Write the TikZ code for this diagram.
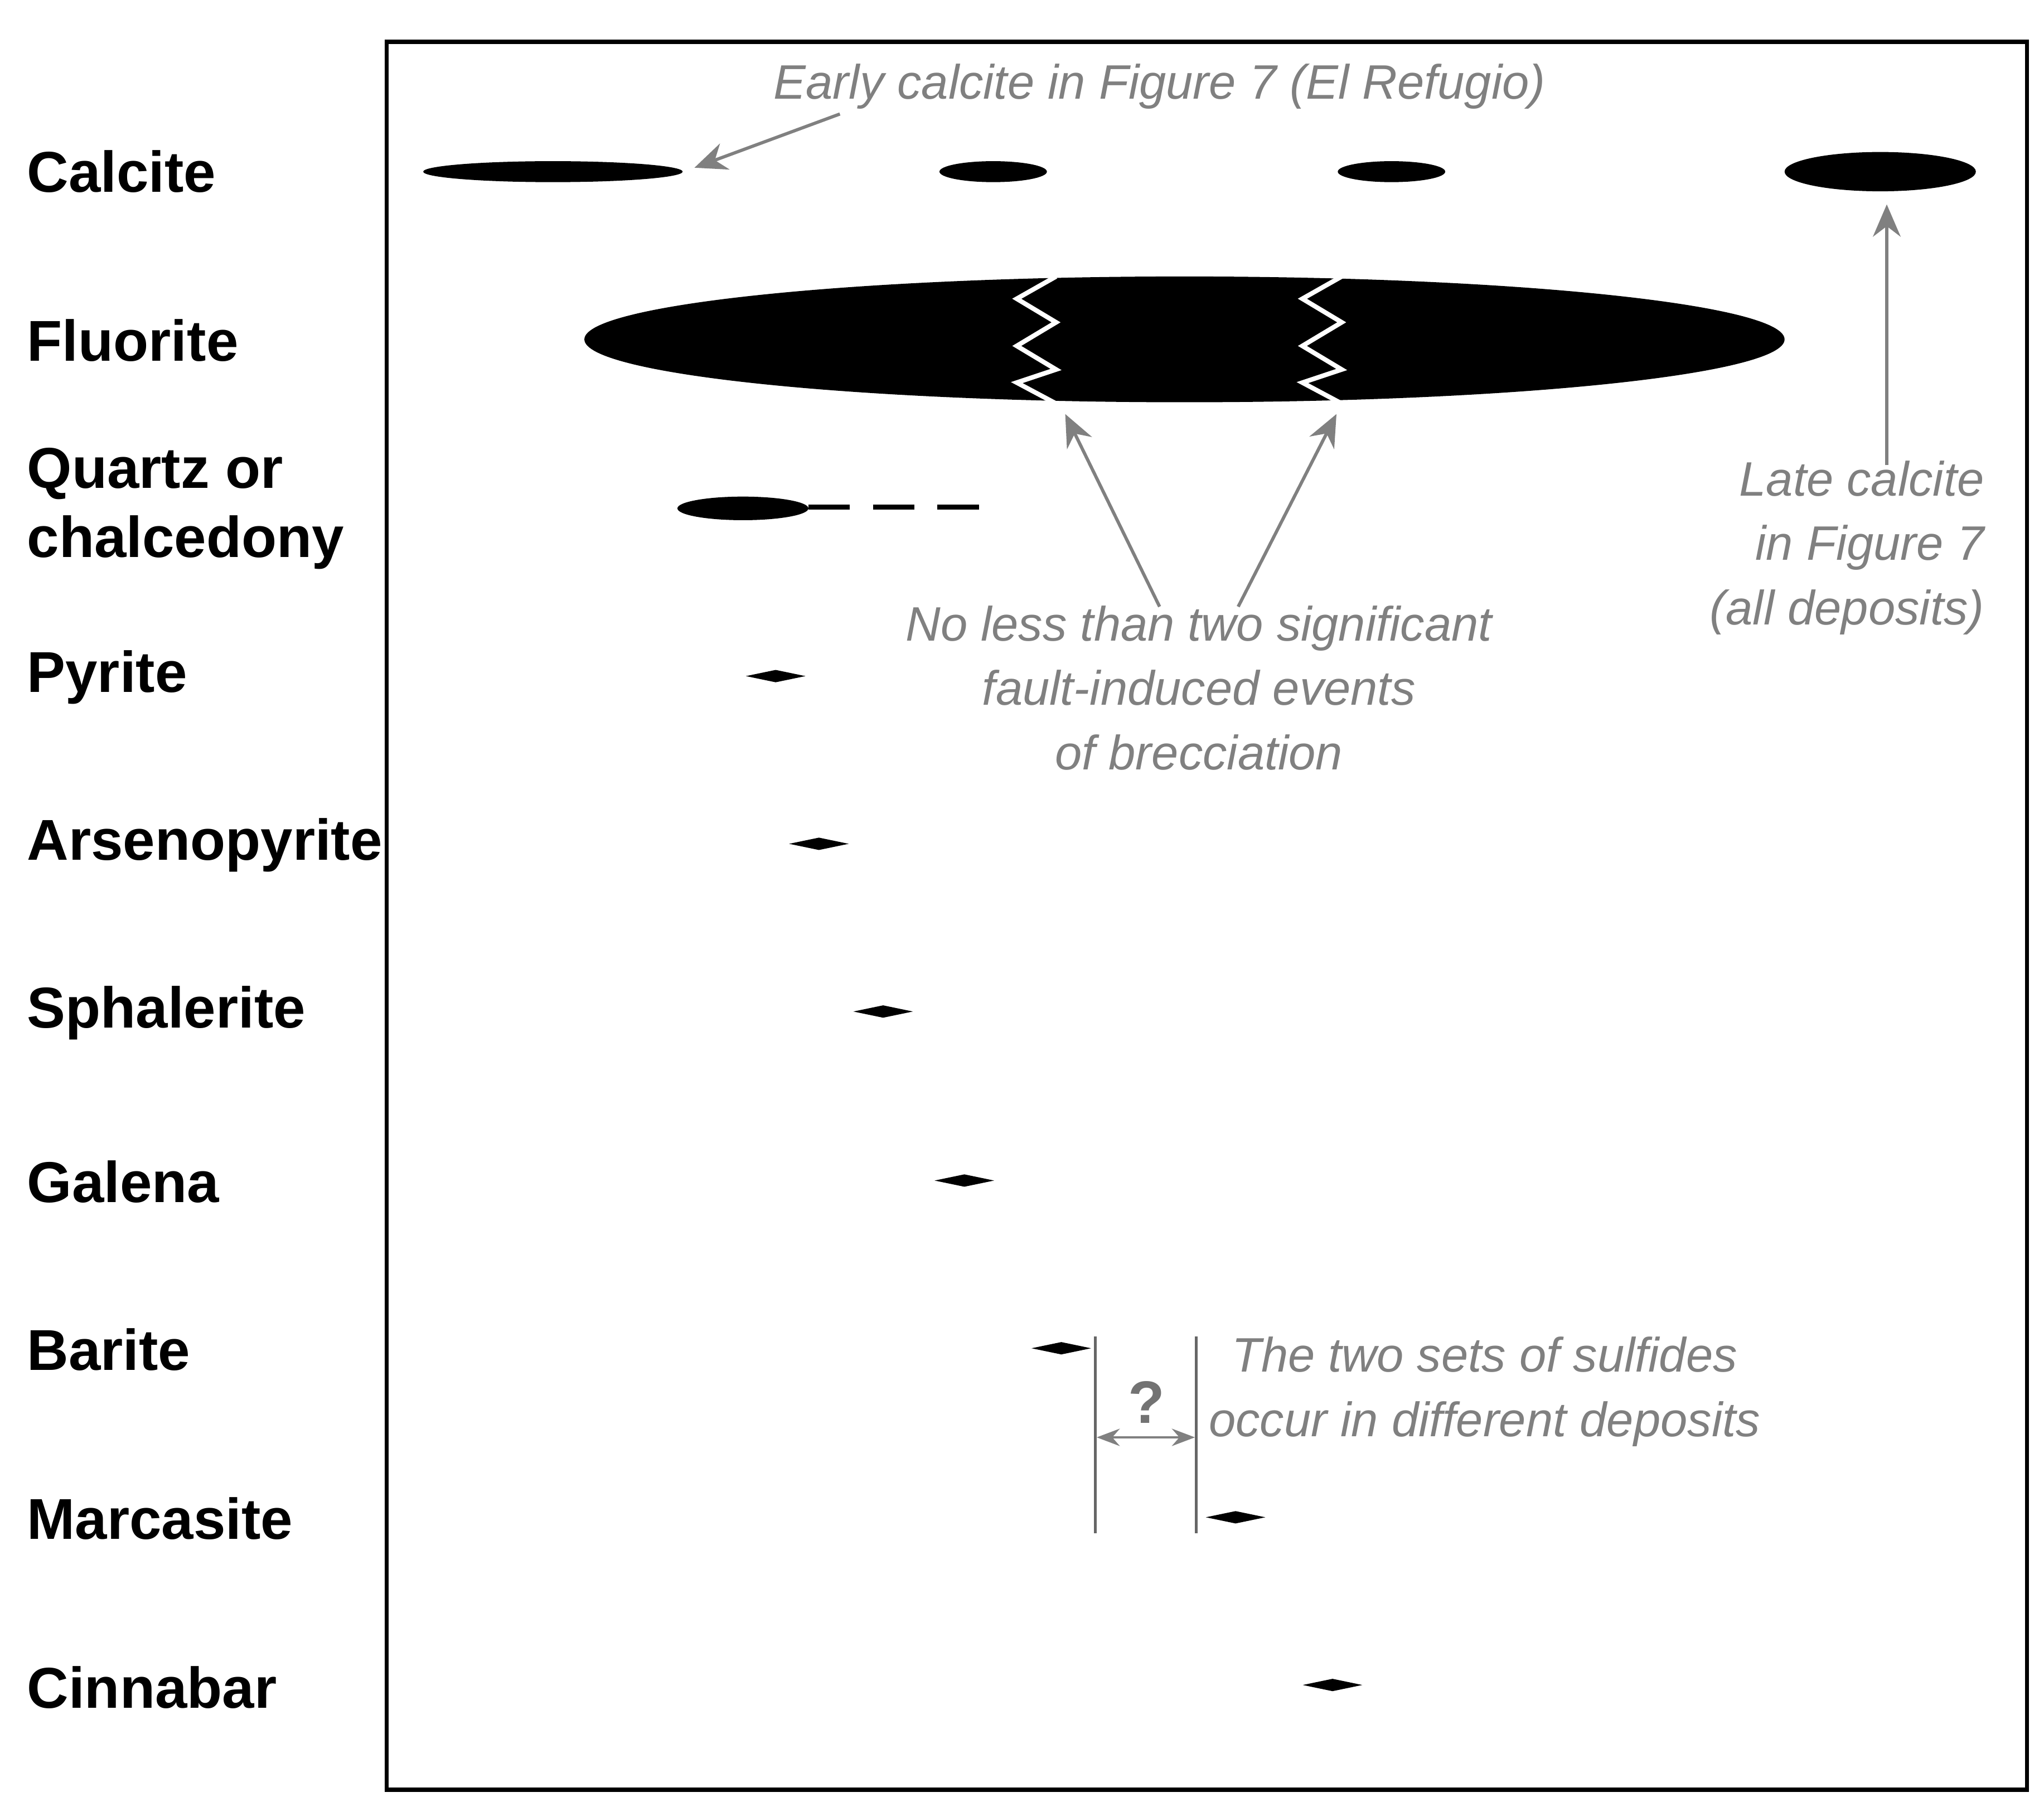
\documentclass[tikz,border=0pt]{standalone}
\usepackage{fontspec}
\setmainfont{Liberation Sans}
\usetikzlibrary{shapes.geometric,arrows.meta}
\begin{document}
\begin{tikzpicture}[x=0.01cm,y=-0.01cm,
  lab/.style={anchor=west,font=\fontsize{12.5}{15}\selectfont\bfseries,inner sep=0pt},
  note/.style={text=black!50,font=\fontsize{10.5}{14}\selectfont\itshape,inner sep=0pt,align=center},
  dia/.style={diamond,fill=black,inner sep=0pt,minimum width=0.46cm,minimum height=0.1cm},
  garr/.style={draw=black!50,line width=0.7pt,-{Stealth[length=7pt,width=6pt]}}]
\useasboundingbox (0,0) rectangle (1560,1375);
\draw[line width=0.9pt] (295,32) rectangle (1547,1366);
\node[lab] (l1) at (20,131) {Calcite};
\node[lab] (l2) at (20,260) {Fluorite};
\node[lab,align=left] (l3) at (20,388) {Quartz or\\chalcedony};
\node[lab] (l4) at (20,517) {Pyrite};
\node[lab] (l5) at (20,645) {Arsenopyrite};
\node[lab] (l6) at (20,773) {Sphalerite};
\node[lab] (l7) at (20,902) {Galena};
\node[lab] (l8) at (20,1030) {Barite};
\node[lab] (l9) at (20,1159) {Marcasite};
\node[lab] (l10) at (20,1288) {Cinnabar};
% calcite
\fill (422,131) ellipse [x radius=99,y radius=8];
\fill (758,131) ellipse [x radius=41,y radius=8];
\fill (1062,131) ellipse [x radius=41,y radius=8];
\fill (1435,131) ellipse [x radius=73,y radius=15];
% fluorite
\fill (904,259) ellipse [x radius=458,y radius=48];
\draw[white,line width=1pt] (806,211) -- (776,228) -- (806,246) -- (776,264) -- (806,282) -- (776,292) -- (806,308);
\draw[white,line width=1pt] (1024,211) -- (994,228) -- (1024,246) -- (994,264) -- (1024,282) -- (994,292) -- (1024,308);
% quartz
\fill (567,388) ellipse [x radius=50,y radius=9];
\draw[line width=1.1pt,dash pattern=on 9pt off 5pt] (617,387) -- (748,387);
% diamonds
\node[dia] (d1) at (592,516) {};
\node[dia] (d2) at (625,644) {};
\node[dia] (d3) at (674,772) {};
\node[dia] (d4) at (736,901) {};
\node[dia] (d5) at (810,1029) {};
\node[dia] (d6) at (943,1158) {};
\node[dia] (d7) at (1017,1286) {};
% uncertainty
\coordinate (v1a) at (836,1020); \coordinate (v1b) at (836,1170);
\coordinate (v2a) at (913,1020); \coordinate (v2b) at (913,1170);
\draw[black!60,line width=0.6pt] (v1a) -- (v1b) (v2a) -- (v2b);
\coordinate (q1) at (837,1097); \coordinate (q2) at (912,1097);
\draw[draw=black!50,line width=0.6pt,{Stealth[length=5pt]}-{Stealth[length=5pt]}] (q1) -- (q2);
\node[text=black!55,font=\fontsize{13}{15}\selectfont\bfseries] (qm) at (875,1070) {?};
\node[note] (t4) at (1133,1062) {The two sets of sulfides\\occur in different deposits};
% notes and arrows
\node[note] (t1) at (885,66) {Early calcite in Figure 7 (El Refugio)};
\coordinate (a1s) at (641,87); \coordinate (a1e) at (530,128);
\draw[garr] (a1s) -- (a1e);
\node[note,align=right,anchor=east] (t2) at (1515,418) {Late calcite\\in Figure 7\\(all deposits)};
\coordinate (a2s) at (1440,355); \coordinate (a2e) at (1440,156);
\draw[garr] (a2s) -- (a2e);
\node[note] (t3) at (915,525) {No less than two significant\\fault-induced events\\of brecciation};
\coordinate (a3s) at (885,463); \coordinate (a3e) at (813,316);
\coordinate (a4s) at (945,463); \coordinate (a4e) at (1020,316);
\draw[garr] (a3s) -- (a3e);
\draw[garr] (a4s) -- (a4e);
\end{tikzpicture}
\end{document}
